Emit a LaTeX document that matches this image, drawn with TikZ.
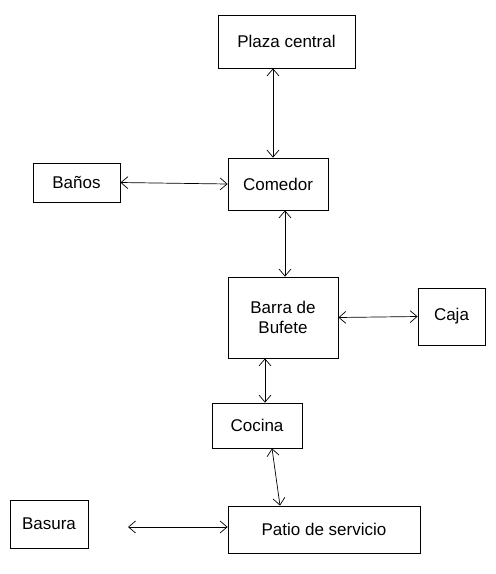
\documentclass[tikz,border=0pt]{standalone}
\usepackage{fontspec}
\setmainfont{Liberation Sans}
\usetikzlibrary{arrows.meta}
\begin{document}
\begin{tikzpicture}[x=1pt,y=-1pt,
  room/.style={draw, line width=0.8pt, inner sep=0pt, font=\fontsize{17}{20}\selectfont, align=center},
  link/.style={line width=0.7pt, {Straight Barb[length=7pt,width=12pt]}-{Straight Barb[length=7pt,width=12pt]}}]
\useasboundingbox (0,0) rectangle (496,574);
\node[room, minimum width=137, minimum height=53] (plaza) at (286.5,41.5) {Plaza central};
\node[room, minimum width=100, minimum height=52] (comedor) at (278,184) {Comedor};
\node[room, minimum width=87, minimum height=39] (banos) at (76.5,182.5) {Baños};
\node[room, minimum width=110, minimum height=81] (barra) at (283,317.5) {Barra de\\Bufete};
\node[room, minimum width=67, minimum height=57] (caja) at (451.5,316.5) {Caja};
\node[room, minimum width=90, minimum height=45] (cocina) at (257,425.5) {Cocina};
\node[room, minimum width=192, minimum height=47] (patio) at (324,529.5) {Patio de servicio};
\node[room, minimum width=78, minimum height=48] (basura) at (49,524) {Basura};
\coordinate (bfree) at (128,527);
\draw[link] ([xshift=-13.5pt]plaza.south) -- ([xshift=-5pt]comedor.north);
\draw[link] (banos.east) -- (comedor.west);
\draw[link] ([xshift=7pt]comedor.south) -- ([xshift=2pt]barra.north);
\draw[link] (barra.east) -- (caja.west);
\draw[link] ([xshift=-18pt]barra.south) -- ([xshift=8pt]cocina.north);
\draw[link] ([xshift=15pt]cocina.south) -- ([xshift=-44pt]patio.north);
\draw[link] (bfree) -- (patio.west |- bfree);
\end{tikzpicture}
\end{document}
